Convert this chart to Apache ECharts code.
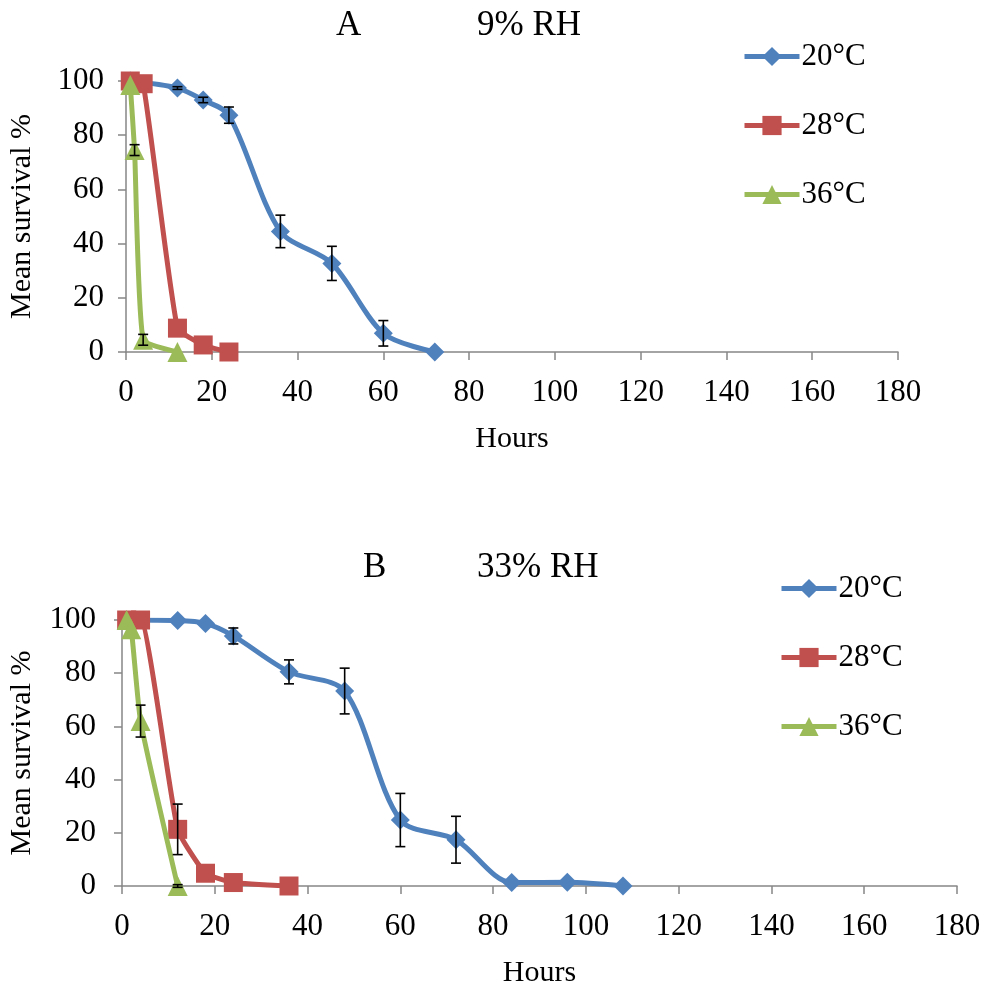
<!DOCTYPE html>
<html><head><meta charset="utf-8">
<script src="https://cdn.jsdelivr.net/npm/echarts@6/dist/echarts.min.js"></script>
<style>html,body{margin:0;padding:0;background:#fff;overflow:hidden}#c{width:986px;height:982px}</style>
</head><body><div id="c"></div>
<script>
// ---- Panel A (9% RH) ----
const hoursA20 = [1, 12, 18, 24, 36, 48, 60, 72];
const survA20  = [100, 97.4, 93, 87.4, 44.5, 32.7, 6.9, 0];
const errA20   = [0, 0.5, 1, 3, 6, 6.3, 4.7, 0];
const hoursA28 = [1, 4, 12, 18, 24];
const survA28  = [100, 99, 8.8, 2.6, 0];
const errA28   = [0, 0, 0, 0, 0];
const hoursA36 = [1, 2, 4, 12];
const survA36  = [98.5, 74.5, 4.5, 0];
const errA36   = [0, 2, 2, 0];
// ---- Panel B (33% RH) ----
const hoursB20 = [1, 12, 18, 24, 36, 48, 60, 72, 84, 96, 108];
const survB20  = [100, 99.8, 98.7, 94, 80.5, 73.3, 24.8, 17.4, 1.3, 1.4, 0];
const errB20   = [0, 0, 0, 3, 4.5, 8.6, 10, 8.8, 0, 0, 0];
const hoursB28 = [1, 4, 12, 18, 24, 36];
const survB28  = [100, 100, 21.3, 4.8, 1.3, 0];
const errB28   = [0, 0, 9.5, 0, 0, 0];
const hoursB36 = [1, 2, 4, 12];
const survB36  = [100, 96.5, 62, 0];
const errB36   = [0, 0, 6, 0.5];

const seriesNames = ['20°C', '28°C', '36°C'];
const titlesA = ['A', '9% RH'];
const titlesB = ['B', '33% RH'];
const xTickMax = 180, yTickMax = 100;

const colors = ['#4F81BD', '#C0504D', '#9BBB59'];
const symbols = ['diamond', 'rect', 'triangle'];
const smoothness = [0.3, 0.15, 0.15];
const FONT = '"Liberation Serif", "Times New Roman", serif';

function zip(h, v) { return h.map((x, i) => [x, v[i]]); }
function zipErr(h, v, e) { return h.map((x, i) => [x, v[i], e[i]]).filter(d => d[2] > 0); }

const panels = [
  {h: [hoursA20, hoursA28, hoursA36], v: [survA20, survA28, survA36], e: [errA20, errA28, errA36]},
  {h: [hoursB20, hoursB28, hoursB36], v: [survB20, survB28, survB36], e: [errB20, errB28, errB36]}
];

const series = [];
panels.forEach((p, gi) => {
  for (let k = 0; k < 3; k++) {
    series.push({
      name: seriesNames[k], type: 'line', xAxisIndex: gi, yAxisIndex: gi,
      data: zip(p.h[k], p.v[k]), smooth: smoothness[k],
      symbol: symbols[k], symbolSize: k === 2 ? 20 : 19,
      lineStyle: {color: colors[k], width: 5},
      itemStyle: {color: colors[k]},
      z: 2 + k, animation: false
    });
  }
  for (let k = 0; k < 3; k++) {
    series.push({
      type: 'custom', xAxisIndex: gi, yAxisIndex: gi, z: 10, animation: false,
      data: zipErr(p.h[k], p.v[k], p.e[k]),
      renderItem: function (params, api) {
        const x = api.value(0), y = api.value(1), e = api.value(2);
        const top = api.coord([x, y + e]), bot = api.coord([x, y - e]);
        const w = 5, st = {stroke: '#000', lineWidth: 1.6};
        return {type: 'group', children: [
          {type: 'line', shape: {x1: top[0], y1: top[1], x2: bot[0], y2: bot[1]}, style: st},
          {type: 'line', shape: {x1: top[0] - w, y1: top[1], x2: top[0] + w, y2: top[1]}, style: st},
          {type: 'line', shape: {x1: bot[0] - w, y1: bot[1], x2: bot[0] + w, y2: bot[1]}, style: st}
        ]};
      }
    });
  }
});

const axisLine = {show: true, lineStyle: {color: '#868686', width: 1.5}};
const axisTick = {show: true, length: 8, lineStyle: {color: '#868686', width: 1.5}};
function xAx(gi, gap) {
  return {type: 'value', gridIndex: gi, min: 0, max: xTickMax, interval: 20,
    name: 'Hours', nameLocation: 'middle', nameGap: gap,
    nameTextStyle: {fontFamily: FONT, fontSize: 30, color: '#000'},
    axisLine, axisTick, splitLine: {show: false},
    axisLabel: {fontFamily: FONT, fontSize: 31, color: '#000', margin: 25}};
}
function yAx(gi, gap, margin) {
  return {type: 'value', gridIndex: gi, min: 0, max: yTickMax, interval: 20,
    name: 'Mean survival %', nameLocation: 'middle', nameGap: gap,
    nameTextStyle: {fontFamily: FONT, fontSize: 30, color: '#000'},
    axisLine, axisTick, splitLine: {show: false},
    axisLabel: {fontFamily: FONT, fontSize: 31, color: '#000', margin}};
}
function legend(left, top) {
  return {orient: 'vertical', left, top, padding: 0, itemWidth: 55, itemHeight: 24, itemGap: 38,
    data: seriesNames, selectedMode: false, lineStyle: {width: 5},
    textStyle: {fontFamily: FONT, fontSize: 31, color: '#000', padding: [0, 0, 0, -3]}};
}
const tStyle = {fontFamily: FONT, fontSize: 35, fontWeight: 'normal', color: '#000'};

const chart = echarts.init(document.getElementById('c'), null, {renderer: 'canvas'});
chart.setOption({
  backgroundColor: '#fff',
  animation: false,
  title: [
    {text: titlesA[0], left: 331, top: 3, textStyle: tStyle},
    {text: titlesA[1], left: 472, top: 3, textStyle: tStyle},
    {text: titlesB[0], left: 358, top: 545, textStyle: tStyle},
    {text: titlesB[1], left: 472, top: 545, textStyle: tStyle}
  ],
  legend: [legend(742, 41), legend(779, 573)],
  grid: [
    {left: 126, right: 88, top: 81, height: 271, containLabel: false, outerBoundsMode: 'none'},
    {left: 122, right: 29, top: 620, height: 266, containLabel: false, outerBoundsMode: 'none'}
  ],
  xAxis: [xAx(0, 72), xAx(1, 72)],
  yAxis: [yAx(0, 89, 22), yAx(1, 85, 26)],
  series
});
</script></body></html>
